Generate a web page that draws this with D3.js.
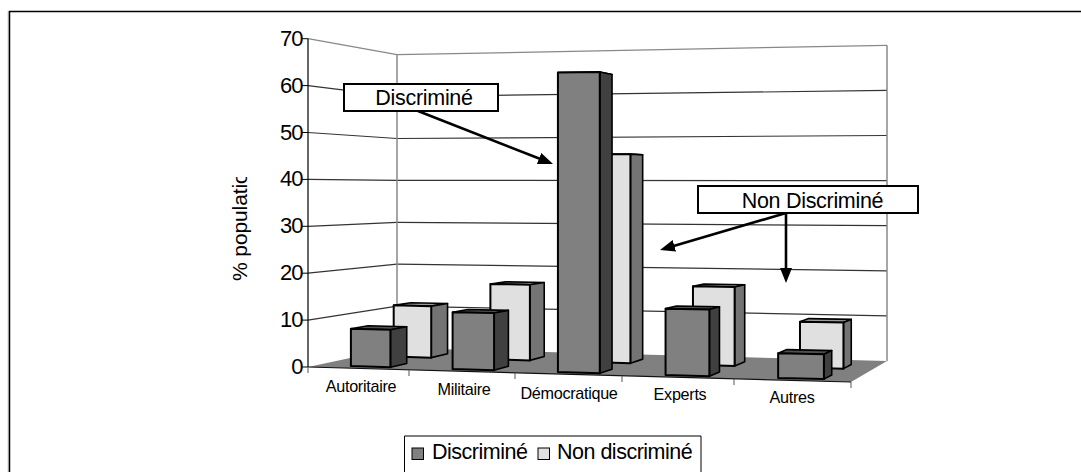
<!DOCTYPE html>
<html><head><meta charset="utf-8">
<script src="https://cdn.jsdelivr.net/npm/d3@7"></script>
<style>html,body{margin:0;padding:0;background:#fff}svg{display:block}text{font-family:"Liberation Sans",Arial,sans-serif;fill:#000}</style>
</head><body><svg id="c" width="1081" height="472"></svg>
<script>
const categories=["Autoritaire","Militaire","Démocratique","Experts","Autres"];
const discrimine=[8,12,62.3,13.6,5];
const nonDiscrimine=[11.6,16.8,45.7,17,9.8];
const yTicks=[0,10,20,30,40,50,60,70];
const seriesNames=["Discriminé","Non discriminé"];
const svg=d3.select("#c");
const U=[0,1,2,3,4,5];
const fx=d3.scaleLinear().domain(U).range([308,409,515,622,734,851]);
const bx=d3.scaleLinear().domain(U).range([397,488,584,680.5,781.6,887]);
const fy=d3.scaleLinear().domain([0,5]).range([367,382]);
const by=d3.scaleLinear().domain([0,5]).range([348,361]);
const fk=d3.scaleLinear().domain([0,5]).range([4.69,5.05]);
const bk=d3.scaleLinear().domain([0,5]).range([4.19,4.51]);
const L=(a,b,t)=>a+(b-a)*t;
const P=(u,d,v)=>[L(fx(u),bx(u),d),L(fy(u),by(u),d)-v*L(fk(u),bk(u),d)];
const poly=(pts,fill,stroke,sw)=>svg.append("polygon").attr("points",pts.map(p=>p.join(",")).join(" ")).attr("fill",fill).attr("stroke",stroke).attr("stroke-width",sw).attr("stroke-linejoin","round");
const line=(a,b,c,w)=>svg.append("line").attr("x1",a[0]).attr("y1",a[1]).attr("x2",b[0]).attr("y2",b[1]).attr("stroke",c).attr("stroke-width",w);
// frame
line([8.2,11],[8.2,472],"#bbb",1);
svg.append("path").attr("d","M9.5,472V11.5H1081").attr("fill","none").attr("stroke","#000").attr("stroke-width",1.5);
// walls
yTicks.forEach(v=>{
  const c=v===70?"#888":"#333";
  if(v>0){line(P(0,0,v),P(0,1,v),c,1.2);line(P(0,1,v),P(5,1,v),c,1.2);}
  line([P(0,0,v)[0]-6,P(0,0,v)[1]],P(0,0,v),"#000",1);
  svg.append("text").attr("x",302.5).attr("y",P(0,0,v)[1]+7).attr("text-anchor","end").attr("font-size",22).attr("letter-spacing",-1).text(v);
});
line(P(0,1,0),P(0,1,70),"#888",1.5);
line(P(5,1,0),P(5,1,70),"#888",1.5);
poly([P(0,0,0),P(5,0,0),P(5,1,0),P(0,1,0)],"#808080","none",0);
line(P(0,0,0),P(0,0,70),"#000",1.2);
line(P(0,0,0),P(5,0,0),"#111",1.2);
U.forEach(u=>{const p=P(u,0,0);line(p,[p[0],p[1]+6],"#555",1);});
// bars
const u0=0.34,u1=0.735;
const bar=(i,d0,d1,v,front,side,top)=>{
  const a=i+u0,b=i+u1;
  poly([P(a,d0,v),P(b,d0,v),P(b,d1,v),P(a,d1,v)],top,"#000",1.6);
  poly([P(b,d0,0),P(b,d1,0),P(b,d1,v),P(b,d0,v)],side,"#000",1.6);
  poly([P(a,d0,0),P(b,d0,0),P(b,d0,v),P(a,d0,v)],front,"#000",2);
};
[0,1,2,3,4].forEach(i=>{
  bar(i,0.6,0.8,nonDiscrimine[i],"#e0e0e0","#747474","#9a9a9a");
  bar(i,0.1,0.3,discrimine[i],"#808080","#404040","#505050");
});
// category labels
const labelPos=[[361,392],[464,395],[569,399],[680,400],[792,403]];
categories.forEach((c,i)=>svg.append("text").attr("x",labelPos[i][0]).attr("y",labelPos[i][1]).attr("text-anchor","middle").attr("font-size",16.2).attr("letter-spacing",-0.3).text(c));
// y title
svg.append("clipPath").attr("id","tc").append("rect").attr("x",225).attr("y",177).attr("width",30).attr("height",110);
svg.append("g").attr("clip-path","url(#tc)").append("text").attr("transform","translate(247,281) rotate(-90)").attr("font-size",21).attr("letter-spacing",-0.1).text("% population");
// callouts
const defs=svg.append("defs");
defs.append("marker").attr("id","ah").attr("viewBox","0 0 10 8").attr("refX",4.67).attr("refY",4).attr("markerWidth",15).attr("markerHeight",12).attr("markerUnits","userSpaceOnUse").attr("orient","auto").append("path").attr("d","M0,0L10,4L0,8Z").attr("fill","#000");
const arrow=(a,b)=>{const n=Math.hypot(b[0]-a[0],b[1]-a[1]),t=1-8/n;return line(a,[a[0]+(b[0]-a[0])*t,a[1]+(b[1]-a[1])*t],"#000",2.6).attr("marker-end","url(#ah)");};
arrow([418,111],[553,164]);
arrow([786,213],[660,250]);
arrow([786,213],[786,283]);
const box=(x,y,w,h,t,cx,by)=>{svg.append("rect").attr("x",x).attr("y",y).attr("width",w).attr("height",h).attr("fill","#fff").attr("stroke","#000").attr("stroke-width",2);
 svg.append("text").attr("x",cx).attr("y",by).attr("text-anchor","middle").attr("font-size",21.5).attr("letter-spacing",-0.3).text(t);};
box(344,84,154,27,"Discriminé",424,105);
box(698,186,220,27,"Non Discriminé",812.5,207.5);
// legend
svg.append("path").attr("d","M404.5,472V436H701V472").attr("fill","#fff").attr("stroke","#000");
[["#808080",412,432],["#e0e0e0",538,557]].forEach((s,i)=>{
 svg.append("rect").attr("x",s[1]).attr("y",448).attr("width",11.5).attr("height",11.5).attr("fill",s[0]).attr("stroke","#000");
 svg.append("text").attr("x",s[2]).attr("y",458.5).attr("font-size",21.5).attr("letter-spacing",-0.5).text(seriesNames[i]);
});
</script></body></html>
